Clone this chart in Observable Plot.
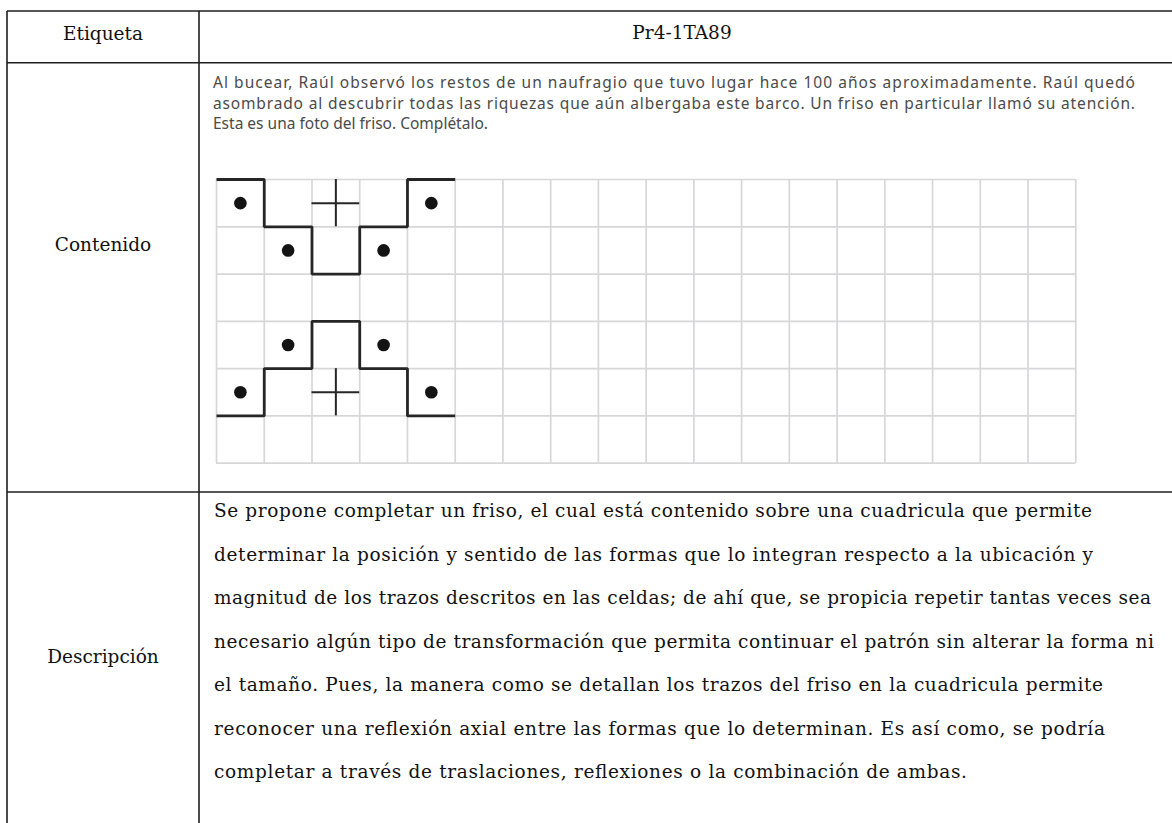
<!DOCTYPE html>
<html>
<head>
<meta charset="utf-8">
<script src="https://cdn.jsdelivr.net/npm/d3@7"></script>
<script src="https://cdn.jsdelivr.net/npm/@observablehq/plot@0.6"></script>
<style>
  html, body { margin: 0; padding: 0; background: #fff; width: 1172px; height: 823px; overflow: hidden; }
  #page { position: relative; width: 1172px; height: 823px; }
  #table { position: absolute; left: 0; top: 0; }
  #friso { position: absolute; left: 212px; top: 175px; width: 868px; }
</style>
</head>
<body>
<div id="page">
  <svg id="table" width="1172" height="823"></svg>
  <div id="friso"></div>
</div>
<script>
// ---------- data ----------
const rowLabels = ["Etiqueta", "Contenido", "Descripción"];
const itemCode = "Pr4-1TA89";
const taskLines = [
  "Al bucear, Raúl observó los restos de un naufragio que tuvo lugar hace 100 años aproximadamente. Raúl quedó",
  "asombrado al descubrir todas las riquezas que aún albergaba este barco. Un friso en particular llamó su atención.",
  "Esta es una foto del friso. Complétalo."
];
const descriptionLines = [
  "Se propone completar un friso, el cual está contenido sobre una cuadricula que permite",
  "determinar la posición y sentido de las formas que lo integran respecto a la ubicación y",
  "magnitud de los trazos descritos en las celdas; de ahí que, se propicia repetir tantas veces sea",
  "necesario algún tipo de transformación que permita continuar el patrón sin alterar la forma ni",
  "el tamaño. Pues, la manera como se detallan los trazos del friso en la cuadricula permite",
  "reconocer una reflexión axial entre las formas que lo determinan. Es así como, se podría",
  "completar a través de traslaciones, reflexiones o la combinación de ambas."
];
// grid (18 columns x 6 rows)
const gridColumnLines = [0,1,2,3,4,5,6,7,8,9,10,11,12,13,14,15,16,17,18];
const gridRowLines = [0,1,2,3,4,5,6];
// dots (cell column / row, row 0 at top)
const dotCol = [0, 1, 3, 4, 1, 3, 0, 4];
const dotRow = [0, 1, 1, 0, 3, 3, 4, 4];
// crosses
const crossCol = [2, 2];
const crossRow = [0, 4];
// frieze outlines (grid vertices)
const upperShapeX = [0, 1, 1, 2, 2, 3, 3, 4, 4, 5];
const upperShapeY = [0, 0, 1, 1, 2, 2, 1, 1, 0, 0];
const lowerShapeX = [0, 1, 1, 2, 2, 3, 3, 4, 4, 5];
const lowerShapeY = [5, 5, 4, 4, 3, 3, 4, 4, 5, 5];

// ---------- table frame & text (layout) ----------
const svg = d3.select("#table");
const lineColor = "#1f1f1f";
const hLines = [11, 62.7, 492];
const vLines = [7, 199];
svg.selectAll("line.h").data(hLines).join("line")
  .attr("x1", 7).attr("x2", 1172).attr("y1", d => d).attr("y2", d => d)
  .attr("stroke", lineColor).attr("stroke-width", 1.6);
svg.selectAll("line.v").data(vLines).join("line")
  .attr("y1", 11).attr("y2", 823).attr("x1", d => d).attr("x2", d => d)
  .attr("stroke", lineColor).attr("stroke-width", 1.6);

const serif = "'DejaVu Serif', 'Liberation Serif', serif";
const sans = "'Noto Sans', 'Open Sans', sans-serif";

const labelY = [39.5, 251, 663];
svg.selectAll("text.lab").data(rowLabels).join("text")
  .attr("x", 103).attr("y", (d, i) => labelY[i])
  .attr("text-anchor", "middle")
  .attr("font-family", serif).attr("font-size", 18.5).attr("fill", "#111")
  .text(d => d);

svg.append("text").attr("x", 682).attr("y", 38.5)
  .attr("text-anchor", "middle")
  .attr("font-family", serif).attr("font-size", 18.5).attr("fill", "#111")
  .text(itemCode);

// task text (justified paragraph: the first two lines span the full width, the last is natural)
const taskY = [88, 108.5, 129];
const taskJustifyWidth = 922;
svg.selectAll("text.task").data(taskLines).join("text")
  .attr("x", 213).attr("y", (d, i) => taskY[i])
  .attr("textLength", (d, i) => i < taskLines.length - 1 ? taskJustifyWidth : null)
  .attr("lengthAdjust", "spacing")
  .attr("font-family", sans).attr("font-size", 15.5).attr("fill", "#4a4a4a")
  .text(d => d);

const descY = [517, 560.5, 604, 647.5, 691, 734.5, 778];
const descW = [878, 879, 937, 940, 889, 891, 753];
svg.selectAll("text.desc").data(descriptionLines).join("text")
  .attr("x", 214).attr("y", (d, i) => descY[i])
  .attr("textLength", (d, i) => descW[i]).attr("lengthAdjust", "spacing")
  .attr("font-family", serif).attr("font-size", 18.5).attr("fill", "#111")
  .text(d => d);

// ---------- frieze grid with Observable Plot ----------
const dots = dotCol.map((c, i) => ({col: c, row: dotRow[i]}));
const crosses = crossCol.map((c, i) => ({col: c, row: crossRow[i]}));
const shapes = [
  ...upperShapeX.map((x, i) => ({shape: "upper", x, y: upperShapeY[i]})),
  ...lowerShapeX.map((x, i) => ({shape: "lower", x, y: lowerShapeY[i]}))
];

const m = 4;
const ink = "#262626";
const chart = Plot.plot({
  width: 859.3 + 2 * m,
  height: 283.7 + 2 * m,
  margin: m,
  x: {domain: [0, 18], axis: null},
  y: {domain: [0, 6], reverse: true, axis: null},
  style: {background: "transparent"},
  marks: [
    Plot.ruleX(gridColumnLines, {x: d => d, y1: () => 0, y2: () => 6, stroke: "#d7d7d9", strokeWidth: 1.7}),
    Plot.ruleY(gridRowLines, {y: d => d, x1: () => 0, x2: () => 18, stroke: "#d7d7d9", strokeWidth: 1.7}),
    Plot.line(shapes, {x: "x", y: "y", z: "shape", stroke: ink, strokeWidth: 2.8, strokeLinejoin: "miter", strokeLinecap: "butt"}),
    Plot.ruleY(crosses, {y: d => d.row + 0.5, x1: d => d.col, x2: d => d.col + 1, stroke: ink, strokeWidth: 2}),
    Plot.ruleX(crosses, {x: d => d.col + 0.5, y1: d => d.row, y2: d => d.row + 1, stroke: ink, strokeWidth: 2}),
    Plot.dot(dots, {x: d => d.col + 0.5, y: d => d.row + 0.5, r: 6.3, fill: "#141414", stroke: "none"})
  ]
});
document.getElementById("friso").appendChild(chart);
</script>
</body>
</html>
